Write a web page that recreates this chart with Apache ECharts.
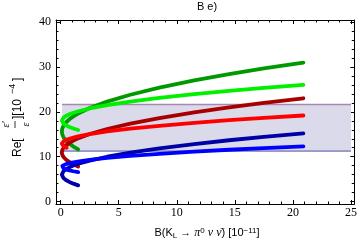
<!DOCTYPE html>
<html><head><meta charset="utf-8">
<script src="https://cdn.jsdelivr.net/npm/echarts@6/dist/echarts.min.js"></script>
<style>html,body{margin:0;padding:0;background:#fff}#c{width:360px;height:249px}</style>
</head><body><div id="c"></div>
<script>
// Tick values
const xMajor = [0, 5, 10, 15, 20, 25];
const xMinor = [1,2,3,4,6,7,8,9,11,12,13,14,16,17,18,19,21,22,23,24];
const yMajor = [0, 10, 20, 30, 40];
const yMinor = [2,4,6,8,12,14,16,18,22,24,26,28,32,34,36,38];

// Band (experimental range)
const bandX = [0.12, 25];
const bandY = [11.25, 21.65];

// Curves: x = B(KL->pi0 nu nubar) [1e-11], y = Re(eps'/eps) [1e-4]
const xFull = [1.51,1.1,0.75,0.45,0.25,0.14,0.1,0.14,0.25,0.45,0.75,1.1,1.6,2.5,4,6,8.5,11.5,14.5,17.5,20.9];
const xRed  = [0.52,0.45,0.25,0.14,0.1,0.14,0.25,0.45,0.75,1.1,1.6,2.5,4,6,8.5,11.5,14.5,17.5,20.9];

const yDarkGreen  = [11.63,12.26,12.91,13.64,14.33,14.96,15.63,16.30,16.93,17.63,18.35,19.0,19.76,20.85,22.29,23.82,25.40,27.01,28.42,29.69,31.0];
const yLightGreen = [15.97,16.30,16.64,17.01,17.37,17.70,18.05,18.40,18.73,19.09,19.46,19.80,20.19,20.76,21.51,22.30,23.12,23.96,24.69,25.35,26.03];
const yDarkRed    = [7.80,8.30,8.81,9.38,9.92,10.42,10.95,11.48,11.98,12.52,13.09,13.60,14.20,15.06,16.18,17.39,18.63,19.90,21.01,22.00,23.04];
const yRed        = [12.0,12.08,12.37,12.62,12.9,13.18,13.43,13.72,14.01,14.28,14.59,15.04,15.63,16.25,16.90,17.56,18.14,18.66,19.19];
const yDarkBlue   = [3.60,3.98,4.37,4.80,5.22,5.60,6.0,6.40,6.78,7.20,7.63,8.02,8.47,9.13,9.99,10.91,11.85,12.82,13.67,14.43,15.21];
const yBlue       = [6.56,6.75,6.94,7.16,7.36,7.55,7.75,7.95,8.14,8.34,8.56,8.75,8.98,9.30,9.73,10.18,10.65,11.13,11.55,11.92,12.31];

const curves = [
  {x: xFull, y: yDarkGreen,  color: '#009a00'},
  {x: xFull, y: yLightGreen, color: '#00f000'},
  {x: xFull, y: yDarkRed,    color: '#a80000'},
  {x: xRed,  y: yRed,        color: '#ff0000'},
  {x: xFull, y: yDarkBlue,   color: '#0000a8'},
  {x: xFull, y: yBlue,       color: '#0000ff'}
];

const pair = (xs, ys) => xs.map((v, i) => [v, ys[i]]);
const XMIN = -0.4, XMAX = 25.28, YMIN = -0.56, YMAX = 40.51;
const labelFont = {fontFamily: 'Liberation Serif', fontSize: 12, color: '#000'};

function xAx(pos, ticks, len, showLine, showLabel) {
  return {type: 'value', min: XMIN, max: XMAX, position: pos,
    axisLine: {show: showLine, onZero: false, lineStyle: {color: '#000', width: 1}},
    axisTick: {show: true, inside: true, length: len, customValues: ticks, lineStyle: {color: '#000'}},
    axisLabel: Object.assign({show: showLabel, customValues: ticks, margin: 3}, labelFont),
    splitLine: {show: false}};
}
function yAx(pos, ticks, len, showLine, showLabel) {
  return {type: 'value', min: YMIN, max: YMAX, position: pos,
    axisLine: {show: showLine, onZero: false, lineStyle: {color: '#000', width: 1}},
    axisTick: {show: true, inside: true, length: len, customValues: ticks, lineStyle: {color: '#000'}},
    axisLabel: Object.assign({show: showLabel, customValues: ticks, margin: 5}, labelFont),
    splitLine: {show: false}};
}

const series = [];
series.push({
  type: 'line', data: pair(bandX, [bandY[1], bandY[1]]), symbol: 'none', silent: true,
  lineStyle: {color: '#a888b0', width: 1.5}, z: 1,
  markArea: {silent: true, itemStyle: {color: '#dadaeb'},
    data: [[{coord: [bandX[0], bandY[0]]}, {coord: [bandX[1], bandY[1]]}]]}
});
series.push({
  type: 'line', data: pair(bandX, [bandY[0], bandY[0]]), symbol: 'none', silent: true,
  lineStyle: {color: '#5050a0', width: 1}, z: 1
});
curves.forEach(c => series.push({
  type: 'line', data: pair(c.x, c.y), symbol: 'none', smooth: false, z: 3,
  lineStyle: {color: c.color, width: 3.8, cap: 'round', join: 'round'}
}));

const mainFont = '12px Liberation Sans';
const chart = echarts.init(document.getElementById('c'), null, {renderer: 'canvas'});
chart.setOption({
  animation: false,
  backgroundColor: '#fff',
  grid: {left: 56, top: 20, right: 5, bottom: 45, containLabel: false},
  xAxis: [xAx('bottom', xMajor, 4, true, true), xAx('bottom', xMinor, 2.5, false, false),
          xAx('top', xMajor, 4, true, false), xAx('top', xMinor, 2.5, false, false)],
  yAxis: [yAx('left', yMajor, 4, true, true), yAx('left', yMinor, 2.5, false, false),
          yAx('right', yMajor, 4, true, false), yAx('right', yMinor, 2.5, false, false)],
  series: series,
  graphic: [
    {type: 'text', x: 207, y: 7, style: {text: 'B e)', font: '11px Liberation Sans', fill: '#000', align: 'center', verticalAlign: 'middle'}},
    {type: 'text', x: 207, y: 233, style: {
      text: 'B(K{sub|L} \u2192 {it|\u03c0}{sup|0} {it|\u03bd} {it|\u03bd\u0304}) [10{sup|\u221211}]',
      font: '11px Liberation Sans', fill: '#000', align: 'center', verticalAlign: 'middle',
      rich: {
        sub: {fontSize: 8, fontFamily: 'Liberation Sans', verticalAlign: 'bottom', padding: [4,0,0,0]},
        sup: {fontSize: 8, fontFamily: 'Liberation Sans', verticalAlign: 'top', padding: [0,0,5,0]},
        it: {fontSize: 12, fontFamily: 'Liberation Serif', fontStyle: 'italic'}
      }}},
    {type: 'group', x: 17, y: 115, rotation: Math.PI / 2, children: [
      {type: 'text', x: -42, y: 0.5, style: {text: 'Re[', font: mainFont, fill: '#000', verticalAlign: 'middle'}},
      {type: 'text', x: -9.5, y: -11, style: {text: '\u03b5\u2032', font: 'italic 10px Liberation Serif', fill: '#000', align: 'center', verticalAlign: 'middle'}},
      {type: 'line', shape: {x1: -13, y1: -2, x2: -6, y2: -2}, style: {stroke: '#000', lineWidth: 0.8}},
      {type: 'text', x: -9.5, y: 9.5, style: {text: '\u03b5', font: 'italic 10px Liberation Serif', fill: '#000', align: 'center', verticalAlign: 'middle'}},
      {type: 'text', x: -4, y: 0.5, style: {text: '][10', font: mainFont, fill: '#000', verticalAlign: 'middle'}},
      {type: 'text', x: 21, y: -4.5, style: {text: '\u22124', font: '9px Liberation Sans', fill: '#000', verticalAlign: 'middle'}},
      {type: 'text', x: 34, y: 0.5, style: {text: ']', font: mainFont, fill: '#000', verticalAlign: 'middle'}}
    ]}
  ]
});
</script></body></html>
